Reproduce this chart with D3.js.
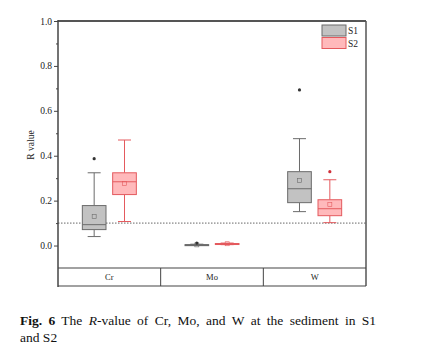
<!DOCTYPE html>
<html>
<head>
<meta charset="utf-8">
<script src="https://cdn.jsdelivr.net/npm/d3@7"></script>
<style>
  body { margin: 0; background: #fff; }
  text { font-family: "Liberation Serif", "DejaVu Serif", serif; }
</style>
</head>
<body>
<script>
// categories and series
let elements = ["Cr", "Mo", "W"];
let series = ["S1", "S2"];
// box stats per element: [whiskerLow, q1, median, q3, whiskerHigh, mean]
let s1Stats = [
    [0.040, 0.071, 0.093, 0.178, 0.324, 0.129],
    [0.001, 0.002, 0.003, 0.004, 0.006, 0.003],
    [0.151, 0.191, 0.253, 0.329, 0.476, 0.289]
];
let s2Stats = [
    [0.107, 0.227, 0.284, 0.324, 0.470, 0.276],
    [0.004, 0.006, 0.008, 0.009, 0.011, 0.008],
    [0.102, 0.133, 0.164, 0.204, 0.293, 0.182]
];
let s1Outliers = [[0.387], [0.011], [0.693]];
let s2Outliers = [[], [], [0.329]];
let yTicks = [0.0, 0.2, 0.4, 0.6, 0.8, 1.0];
let thresholdValue = 0.1;

let width = 423, height = 360;
let margin = {top: 21, right: 57, bottom: 92, left: 58};
let innerW = width - margin.left - margin.right;

let svg = d3.select("body").append("svg")
    .attr("width", width)
    .attr("height", height);

let y = d3.scaleLinear().domain([-0.1, 1.0]).range([268, 21]);
let x = d3.scaleBand().domain(elements).range([margin.left, margin.left + innerW]);
let xs = d3.scaleBand().domain(series).range([-27, 27]).paddingInner(0.22);

let colors = {
    S1: {fill: "#c2c2c2", stroke: "#6b6b6b"},
    S2: {fill: "#ffb9bb", stroke: "#e45a5e"}
};

// threshold dotted line
svg.append("line")
    .attr("x1", x.range()[0]).attr("x2", x.range()[1])
    .attr("y1", y(thresholdValue)).attr("y2", y(thresholdValue))
    .attr("stroke", "#555").attr("stroke-width", 0.9)
    .attr("stroke-dasharray", "1.5,1.5");

// boxes
function drawBoxes(name, stats, outliers) {
    let c = colors[name];
    let g = svg.append("g").attr("class", "series-" + name);
    elements.forEach(function (el, i) {
        let s = stats[i];
        let cx = x(el) + x.bandwidth() / 2 + xs(name) + xs.bandwidth() / 2;
        let bw = xs.bandwidth();
        let cap = 13;
        // whiskers
        g.append("line").attr("x1", cx).attr("x2", cx)
            .attr("y1", y(s[4])).attr("y2", y(s[3]))
            .attr("stroke", c.stroke).attr("stroke-width", 1);
        g.append("line").attr("x1", cx).attr("x2", cx)
            .attr("y1", y(s[1])).attr("y2", y(s[0]))
            .attr("stroke", c.stroke).attr("stroke-width", 1);
        [s[0], s[4]].forEach(function (v) {
            g.append("line").attr("x1", cx - cap / 2).attr("x2", cx + cap / 2)
                .attr("y1", y(v)).attr("y2", y(v))
                .attr("stroke", c.stroke).attr("stroke-width", 1);
        });
        // box
        g.append("rect")
            .attr("x", cx - bw / 2).attr("width", bw)
            .attr("y", y(s[3])).attr("height", Math.max(1, y(s[1]) - y(s[3])))
            .attr("fill", c.fill).attr("stroke", c.stroke).attr("stroke-width", 1);
        g.append("line").attr("x1", cx - bw / 2).attr("x2", cx + bw / 2)
            .attr("y1", y(s[2])).attr("y2", y(s[2]))
            .attr("stroke", c.stroke).attr("stroke-width", 1);
        // mean
        g.append("rect").attr("x", cx - 2).attr("y", y(s[5]) - 2)
            .attr("width", 4).attr("height", 4)
            .attr("fill", "none").attr("stroke", c.stroke).attr("stroke-width", 0.6);
        // outliers
        outliers[i].forEach(function (v) {
            g.append("circle").attr("cx", cx).attr("cy", y(v)).attr("r", 1.6)
                .attr("fill", name === "S1" ? "#333" : "#d0303a");
        });
    });
}
drawBoxes("S1", s1Stats, s1Outliers);
drawBoxes("S2", s2Stats, s2Outliers);

// frame: top and right
let x0 = x.range()[0], x1 = x.range()[1];
svg.append("line").attr("x1", x0).attr("x2", x1).attr("y1", 21).attr("y2", 21)
    .attr("stroke", "#555").attr("stroke-width", 2);
svg.append("line").attr("x1", x1).attr("x2", x1).attr("y1", 21).attr("y2", 286)
    .attr("stroke", "#555").attr("stroke-width", 1.5);

// left axis
let yAxis = d3.axisLeft(y).tickValues(yTicks).tickFormat(d3.format(".1f")).tickSize(4).tickPadding(2);
let ga = svg.append("g").attr("transform", "translate(" + x0 + ",0)").call(yAxis);
ga.select(".domain").remove();
ga.selectAll("line").attr("stroke", "#444");
ga.selectAll("text").attr("font-size", 9.5).attr("fill", "#222");
let minor = d3.axisLeft(y).tickValues([0.1, 0.3, 0.5, 0.7, 0.9]).tickFormat("").tickSize(2);
let gm = svg.append("g").attr("transform", "translate(" + x0 + ",0)").call(minor);
gm.select(".domain").remove();
gm.selectAll("line").attr("stroke", "#444");
svg.append("line").attr("x1", x0).attr("x2", x0).attr("y1", 20).attr("y2", 287)
    .attr("stroke", "#444").attr("stroke-width", 1.5);

// category strip
svg.append("line").attr("x1", x0).attr("x2", x1).attr("y1", 268).attr("y2", 268)
    .attr("stroke", "#444").attr("stroke-width", 1.2);
svg.append("line").attr("x1", x0).attr("x2", x1).attr("y1", 286).attr("y2", 286)
    .attr("stroke", "#444").attr("stroke-width", 1.2);
elements.slice(1).forEach(function (el) {
    svg.append("line").attr("x1", x(el)).attr("x2", x(el)).attr("y1", 268).attr("y2", 286)
        .attr("stroke", "#444").attr("stroke-width", 1);
});
elements.forEach(function (el) {
    svg.append("text").attr("x", x(el) + x.bandwidth() / 2).attr("y", 280)
        .attr("text-anchor", "middle").attr("font-size", 8.5).attr("fill", "#222").text(el);
});

// y label
svg.append("text").attr("transform", "translate(34,145) rotate(-90)")
    .attr("text-anchor", "middle").attr("font-size", 9.5).attr("fill", "#222").text("R value");

// legend
series.forEach(function (name, i) {
    let ly = 25 + i * 12.5;
    svg.append("rect").attr("x", 322).attr("y", ly).attr("width", 24).attr("height", 11)
        .attr("fill", colors[name].fill).attr("stroke", colors[name].stroke).attr("stroke-width", 1);
    svg.append("text").attr("x", 348).attr("y", ly + 9).attr("font-size", 9.5)
        .attr("fill", "#222").text(name);
});

// caption (first line justified to the right edge ~370)
let cap = svg.append("text").attr("x", 20).attr("y", 325).attr("font-size", 13.5).attr("fill", "#111");
cap.append("tspan").attr("font-weight", "bold").text("Fig. 6");
cap.append("tspan").attr("dx", 6).text("The ");
cap.append("tspan").attr("font-style", "italic").text("R");
cap.append("tspan").text("-value of Cr, Mo, and W at the sediment in S1");
let natural = cap.node().getComputedTextLength() + 6;
let gaps = 10;
let ws = Math.max(0, (350 - natural) / gaps);
cap.attr("word-spacing", ws);
svg.append("text").attr("x", 20).attr("y", 342).attr("font-size", 13.5).attr("fill", "#111").text("and S2");
</script>
</body>
</html>
